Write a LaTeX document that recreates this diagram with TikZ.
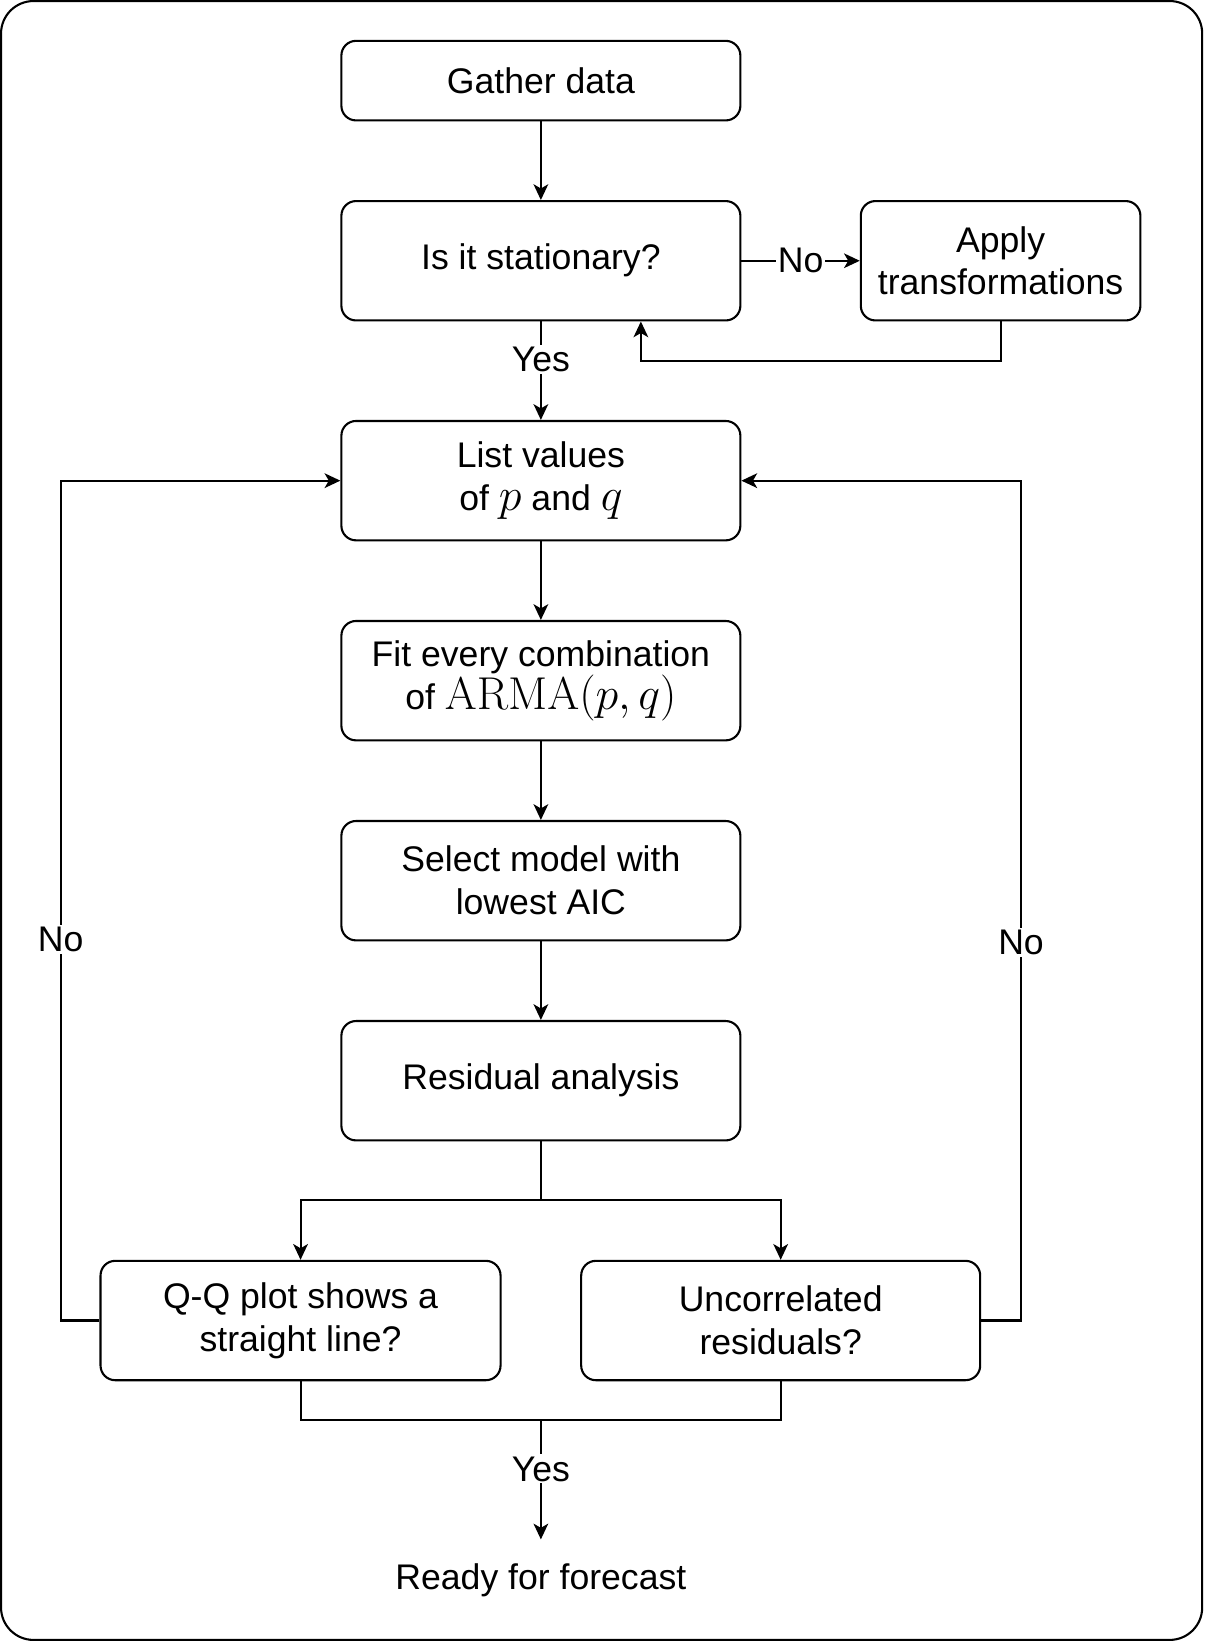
\RequirePackage{fix-cm}
\documentclass[tikz,border=0pt]{standalone}
\usepackage[no-math]{fontspec}
\setmainfont{Liberation Sans}
\usetikzlibrary{arrows.meta}
\newcommand{\mathbig}[1]{{\fontsize{44}{44}\selectfont$#1$}}
\begin{document}
\begin{tikzpicture}[x=1pt,y=-1pt, line width=2pt,
  box/.style={draw, rounded corners=14pt, minimum width=381pt, minimum height=114pt,
    align=center, font=\fontsize{34}{41}\selectfont, inner sep=0pt},
  lbl/.style={fill=white, font=\fontsize{34}{41}\selectfont, inner sep=2pt},
  plain/.style={font=\fontsize{34}{41}\selectfont},
  arr/.style={-{Stealth[length=15pt,width=14pt,inset=4pt]}}]
\useasboundingbox (0,0) rectangle (1150,1568);
\draw[rounded corners=31pt] (1,1) rectangle (1148,1566);

\node[box, minimum height=76pt] (gather) at (516.5,77) {Gather data};
\node[box] (stat) at (516.5,249) {Is it stationary?};
\node[box, minimum width=267pt] (apply) at (955.5,249) {Apply\\transformations};
\node[box] (list) at (516.5,459) {List values\\of \mathbig{p} and \mathbig{q}};
\node[box] (fit) at (516.5,650) {Fit every combination\\of \mathbig{\mathrm{ARMA}(p,q)}};
\node[box] (sel) at (516.5,841) {Select model with\\lowest AIC};
\node[box] (res) at (516.5,1032) {Residual analysis};
\node[box, minimum width=382pt] (qq) at (287,1261) {Q-Q plot shows a\\straight line?};
\node[box] (unc) at (745.5,1261) {Uncorrelated\\residuals?};
\node[plain] (ready) at (516.5,1509) {Ready for forecast};

\coordinate (fb) at (612,345);
\coordinate (split) at (516.5,1146);
\coordinate (ll) at (58,1261);
\coordinate (rl) at (975,1261);
\coordinate (joinL) at (287,1356);
\coordinate (join) at (516.5,1356);
\coordinate (rtop) at (516.5,1470);

\draw[arr] (gather) -- (stat);
\draw[arr] (stat) -- node[lbl]{No} (apply);
\draw[arr] (apply.south) |- (fb) -- (fb |- stat.south);
\draw[arr] (stat) -- node[lbl, pos=0.385]{Yes} (list);
\draw[arr] (list) -- (fit);
\draw[arr] (fit) -- (sel);
\draw[arr] (sel) -- (res);
\draw (res.south) -- (split);
\draw[arr] (split) -| (qq.north);
\draw[arr] (split) -| (unc.north);
\draw[arr] (qq.west) -- (ll) |- node[lbl, pos=0.227]{No} (list.west);
\draw[arr] (unc.east) -- (rl) |- node[lbl, pos=0.225]{No} (list.east);
\draw (qq.south) -- (joinL) -| (unc.south);
\draw[arr] (join) -- node[lbl, pos=0.41]{Yes} (rtop);
\end{tikzpicture}
\end{document}
